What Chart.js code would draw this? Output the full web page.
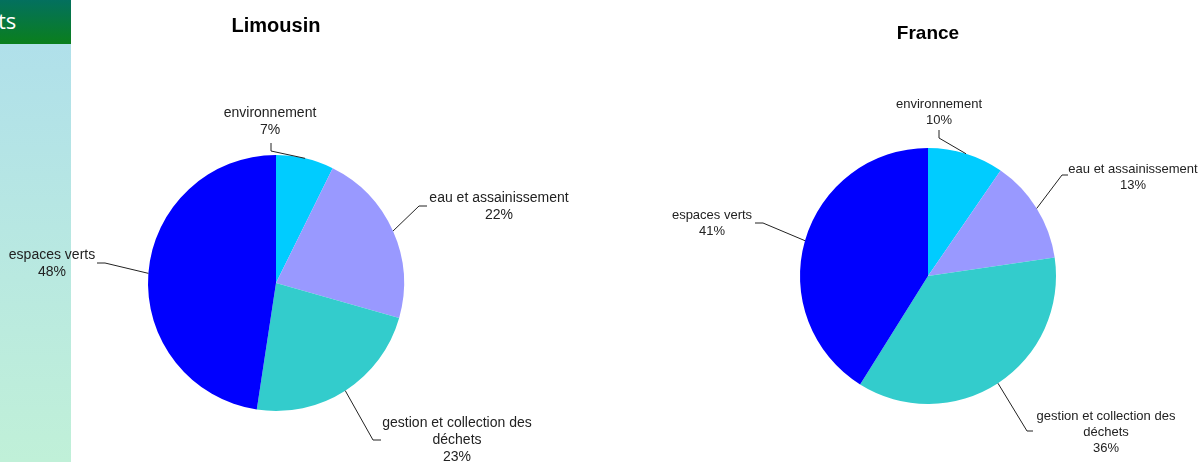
<!DOCTYPE html>
<html lang="fr">
<head>
<meta charset="utf-8">
<script src="https://cdn.jsdelivr.net/npm/chart.js@4.4.1/dist/chart.umd.min.js"></script>
<style>
    html, body { margin: 0; padding: 0; width: 1202px; height: 462px; overflow: hidden; background: #fff; }
    #side { position: absolute; left: 0; top: 0; width: 71px; height: 462px; }
    #side .head {
        height: 44px; background: linear-gradient(#03705e, #0a7f1c); color: #fff;
        font: 22px "Open Sans", sans-serif; line-height: 40px; white-space: nowrap; overflow: hidden;
        text-indent: -2px;
    }
    #side .body { height: 418px; background: linear-gradient(#b0e0ea, #c0f0d8); }
    canvas { position: absolute; top: 0; }
</style>
</head>
<body>
<div id="side"><div class="head">ts</div><div class="body"></div></div>
<canvas id="limousinChart" width="600" height="462" style="left:0"></canvas>
<canvas id="franceChart" width="602" height="462" style="left:600px"></canvas>
<script>
// Données (parts estimées d'après le graphique)
const categories = ["environnement", "eau et assainissement", "gestion et collection des déchets", "espaces verts"];
const labelLines = [["environnement"], ["eau et assainissement"], ["gestion et collection des", "déchets"], ["espaces verts"]];
const limousinValues = [7.3, 22.1, 23.0, 47.6];
const franceValues = [9.6, 13.1, 36.2, 41.1];
const sliceColors = ["#00CCFF", "#9999FF", "#33CCCC", "#0000FF"];

// Placement des étiquettes (relatif au centre du camembert)
const limousinLeaders = [
    { elbow: [-5, -132], end: [-5, -140], text: [-6, -170] },
    { elbow: [143, -77], end: [151, -77], text: [223, -85] },
    { elbow: [97, 157], end: [105, 157], text: [181, 140] },
    { elbow: [-171, -20], end: [-179, -20], text: [-224, -28] },
];
const franceLeaders = [
    { elbow: [11, -138], end: [11, -146], text: [11, -172] },
    { elbow: [134, -101], end: [140, -101], text: [205, -107] },
    { elbow: [99, 155], end: [105, 155], text: [178, 140] },
    { elbow: [-165, -53], end: [-173, -53], text: [-216, -61] },
];

const FONT = "'Liberation Sans', Arial, sans-serif";

// Étiquettes avec lignes de rappel
const leaderLabels = {
    id: "leaderLabels",
    afterDatasetsDraw(chart, args, opts) {
        const ctx = chart.ctx;
        const meta = chart.getDatasetMeta(0);
        const data = chart.data.datasets[0].data;
        const total = data.reduce((a, b) => a + b, 0);
        ctx.save();
        meta.data.forEach((arc, i) => {
            const p = arc.getProps(["x", "y", "startAngle", "endAngle", "outerRadius"], true);
            const mid = (p.startAngle + p.endAngle) / 2;
            const lay = opts.layout[i];
            ctx.beginPath();
            ctx.moveTo(p.x + Math.cos(mid) * p.outerRadius, p.y + Math.sin(mid) * p.outerRadius);
            ctx.lineTo(p.x + lay.elbow[0], p.y + lay.elbow[1]);
            ctx.lineTo(p.x + lay.end[0], p.y + lay.end[1]);
            ctx.strokeStyle = "#222";
            ctx.lineWidth = 1;
            ctx.stroke();
            const lines = labelLines[i].concat(Math.round((data[i] / total) * 100) + "%");
            ctx.font = opts.fontSize + "px " + FONT;
            ctx.fillStyle = "#222";
            ctx.textAlign = "center";
            ctx.textBaseline = "middle";
            lines.forEach((t, k) => {
                ctx.fillText(t, p.x + lay.text[0], p.y + lay.text[1] + k * opts.lineHeight);
            });
        });
        ctx.restore();
    },
};

function makePie(id, title, values, leaders, cfg) {
    return new Chart(document.getElementById(id), {
        type: "pie",
        data: {
            labels: categories,
            datasets: [{
                data: values,
                backgroundColor: sliceColors,
                borderWidth: 0,
            }],
        },
        options: {
            responsive: false,
            animation: false,
            layout: { padding: cfg.padding },
            plugins: {
                legend: { display: false },
                tooltip: { enabled: false },
                title: {
                    display: true,
                    text: title,
                    color: "#000",
                    font: { size: cfg.titleSize, weight: "bold", family: FONT },
                    padding: cfg.titlePadding,
                },
                leaderLabels: { layout: leaders, fontSize: cfg.fontSize, lineHeight: cfg.lineHeight },
            },
        },
        plugins: [leaderLabels],
    });
}

makePie("limousinChart", "Limousin", limousinValues, limousinLeaders, {
    padding: { top: 8, left: 148, right: 196, bottom: 51 },
    titleSize: 20,
    titlePadding: { top: 6, bottom: 117 },
    fontSize: 14,
    lineHeight: 17,
});

makePie("franceChart", "France", franceValues, franceLeaders, {
    padding: { top: 8, left: 200, right: 146, bottom: 58 },
    titleSize: 19,
    titlePadding: { top: 14.6, bottom: 102.6 },
    fontSize: 13,
    lineHeight: 16,
});
</script>
</body>
</html>
